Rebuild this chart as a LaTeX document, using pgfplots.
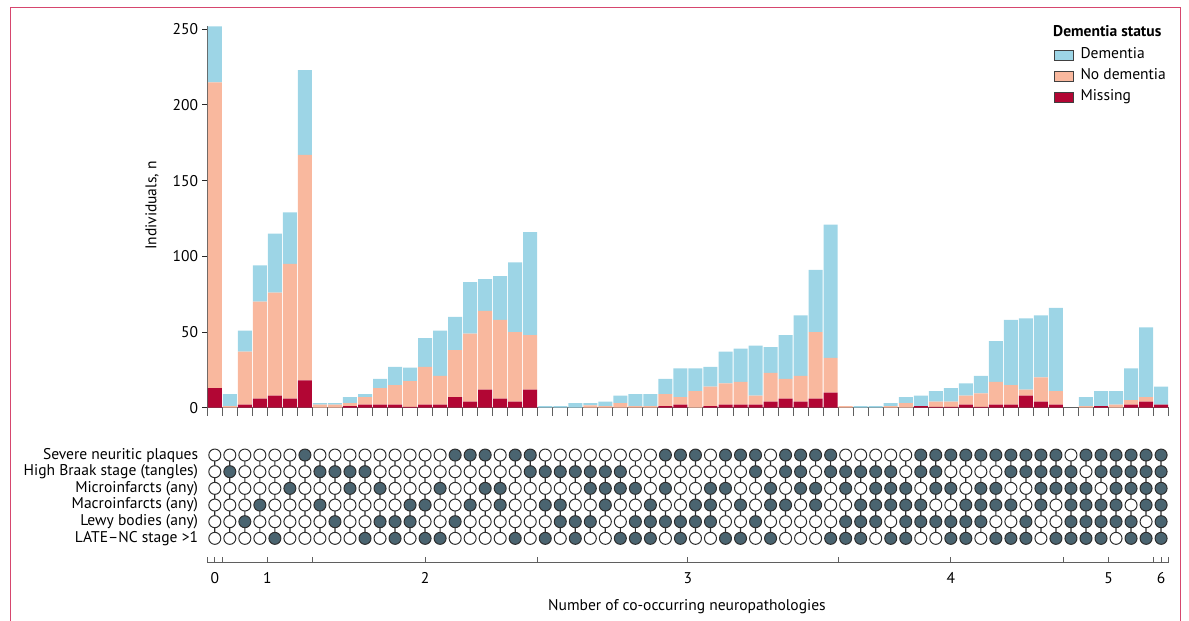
\documentclass[border=0pt]{standalone}
\usepackage{fontspec}
\setmainfont{PT Sans}
\usepackage{pgfplots}
\usepackage{pgfplotstable}
\pgfplotsset{compat=1.18}
\definecolor{dem}{RGB}{157,213,230}
\definecolor{nodem}{RGB}{249,184,158}
\definecolor{miss}{RGB}{178,6,52}
\definecolor{dotfill}{RGB}{74,100,112}
\definecolor{dotline}{RGB}{45,45,45}
\definecolor{framec}{RGB}{214,70,110}
\definecolor{axisgray}{RGB}{95,95,95}
\newcommand{\fs}{\fontsize{15.6}{18}\selectfont}

\pgfplotstableread{
k M ND D
0 13 202 37
1 0 1 8
2 2 35 14
3 6 64 24
4 8 68 39
5 6 89 34
6 18 149 56
7 0 2 1
8 0 2 1
9 1 2 4
10 2 5 2
11 2 11 6
12 2 13 12
13 0.5 17 9
14 2 25 19
15 2 19 30
16 7 31 22
17 4 45 34
18 12 52 21
19 6 52 29
20 4 46 46
21 12 36 68
22 0 0 1
23 0 0 1
24 0 0 3
25 0 1.5 1.5
26 0 1 3
27 0 3 5
28 0 1 8
29 0 1 8
30 1 8 10
31 2 5 19
32 0 11 15
33 1 13 13
34 2 14 21
35 2 15 22
36 2 6 33
37 4 19 17
38 6 13 29
39 4 17 40
40 6 44 41
41 10 23 88
42 0 1 0
43 0 0 1
44 0 0 1
45 0 1 2
46 0 3 4
47 1 0 7
48 0.5 3.5 7
49 0.5 3.5 9
50 2 6 8
51 0.5 9 11.5
52 2 15 27
53 2 13 43
54 8 4 47
55 4 16 41
56 2 9 55
57 0 0 0
58 0 1 6
59 1 0 10
60 0 2 9
61 2 3 21
62 4 3 46
63 2 0 12
}\bars

\begin{document}
\begin{tikzpicture}
\useasboundingbox (0bp,0bp) rectangle (1189bp,-621bp);
\draw[framec, line width=1bp] (10bp,-622bp) -- (10bp,-7bp) -- (1180bp,-7bp) -- (1180bp,-622bp);

\begin{axis}[
  at={(207.3bp,-407.7bp)}, anchor=south west,
  scale only axis, width=961.3bp, height=382.2bp,
  xmin=-0.5, xmax=63.5, ymin=0, ymax=252.5,
  enlargelimits=false,
  ybar stacked, bar width=14bp,
  axis x line*=bottom, axis y line*=left,
  x axis line style={axisgray, line width=1.3bp, -},
  y axis line style={axisgray, line width=1bp, -},
  tick align=outside,
  xtick={-0.5,0.5,...,63.5}, xticklabels={},
  xtick style={axisgray, line width=1bp, /pgfplots/major tick length=8bp},
  ytick={0,50,100,150,200,250},
  ytick style={black!85, line width=1bp, /pgfplots/major tick length=5bp},
  /pgf/number format/assume math mode=true,
  tick label style={font=\fs},
  yticklabel style={xshift=-1.5bp},
  ylabel={Individuals, n},
  ylabel style={font=\fs, at={(axis description cs:-0.0575,0.529)}, anchor=center},
  reverse legend,
  legend cell align=left,
  legend image code/.code={\draw[#1, draw=black!75, line width=0.8bp] (0bp,-5bp) rectangle (19bp,5bp);},
  legend style={at={(rel axis cs:0.8808,0.9411)}, anchor=north west, draw=none, fill=none,
    inner sep=0pt, row sep=6.5bp, column sep=6.5bp, font=\fs,
    nodes={inner sep=0pt, text height=10.5bp, text depth=4bp}},
]
\addplot[fill=miss, draw=none] table[x=k,y=M]{\bars};
\addplot[fill=nodem, draw=none] table[x=k,y=ND]{\bars};
\addplot[fill=dem, draw=none] table[x=k,y=D]{\bars};
\legend{Missing, No dementia, Dementia}
\end{axis}
\node[anchor=base west, font=\fs\bfseries, inner sep=0pt] at (1053bp,-36.5bp) {Dementia status};

\begin{axis}[
  at={(207.3bp,-562.5bp)}, anchor=south west,
  scale only axis, width=961.3bp, height=115.8bp,
  xmin=-0.5, xmax=63.5, ymin=-1.45, ymax=5.5,
  enlargelimits=false,
  axis x line*=bottom, axis y line*=left,
  y axis line style={draw=none},
  x axis line style={axisgray, line width=1.3bp, -},
  tick align=inside,
  xtick={-0.5,0.5,6.5,21.5,41.5,56.5,62.5,63.5}, xticklabels={},
  xtick style={axisgray, line width=1bp, /pgfplots/major tick length=6bp},
  extra x ticks={0,3.5,14,31.5,49,59.5,63},
  extra x tick labels={0,1,2,3,4,5,6},
  extra x tick style={/pgfplots/major tick length=0pt, xticklabel style={anchor=north, inner sep=0pt, yshift=-9.5bp}},
  ytick={0,1,2,3,4,5},
  yticklabels={LATE--NC stage >1, Lewy bodies (any), Macroinfarcts (any), Microinfarcts (any), High Braak stage (tangles), Severe neuritic plaques},
  ytick style={draw=none},
  yticklabel style={anchor=east, inner sep=0pt, xshift=-9bp},
  tick label style={font=\fs},
  xlabel={Number of co-occurring neuropathologies},
  xlabel style={font=\fs, at={(axis description cs:0.499,-0.385)}, anchor=center},
]
\addplot[ybar, bar width=1.2bp, fill=dotline, draw=none] coordinates {
(0,5)(1,5)(2,5)(3,5)(4,5)(5,5)(6,5)(7,5)(8,5)(9,5)(10,5)(11,5)(12,5)(13,5)(14,5)(15,5)
(16,5)(17,5)(18,5)(19,5)(20,5)(21,5)(22,5)(23,5)(24,5)(25,5)(26,5)(27,5)(28,5)(29,5)(30,5)(31,5)
(32,5)(33,5)(34,5)(35,5)(36,5)(37,5)(38,5)(39,5)(40,5)(41,5)(42,5)(43,5)(44,5)(45,5)(46,5)(47,5)
(48,5)(49,5)(50,5)(51,5)(52,5)(53,5)(54,5)(55,5)(56,5)(57,5)(58,5)(59,5)(60,5)(61,5)(62,5)(63,5)};
% open circles
\addplot[only marks, mark=*, mark size=6bp, mark options={fill=white, draw=dotline, line width=1bp}] coordinates {
(0,5)(1,5)(2,5)(3,5)(4,5)(5,5)(7,5)(8,5)(9,5)(10,5)(11,5)(12,5)(13,5)(14,5)(15,5)(19,5)(22,5)(23,5)(24,5)(25,5)(26,5)(27,5)(28,5)(29,5)(33,5)(37,5)(42,5)(43,5)(44,5)(45,5)(46,5)(57,5)
(0,4)(2,4)(3,4)(4,4)(5,4)(6,4)(11,4)(12,4)(13,4)(14,4)(15,4)(16,4)(17,4)(18,4)(19,4)(20,4)(28,4)(29,4)(30,4)(31,4)(32,4)(33,4)(34,4)(35,4)(37,4)(40,4)(46,4)(49,4)(50,4)(51,4)(52,4)(58,4)
(0,3)(1,3)(2,3)(3,3)(4,3)(6,3)(7,3)(8,3)(10,3)(12,3)(13,3)(14,3)(16,3)(17,3)(20,3)(21,3)(22,3)(23,3)(24,3)(29,3)(31,3)(32,3)(35,3)(36,3)(38,3)(41,3)(43,3)(47,3)(50,3)(53,3)(54,3)(59,3)
(0,2)(1,2)(2,2)(4,2)(5,2)(6,2)(8,2)(9,2)(10,2)(11,2)(12,2)(15,2)(16,2)(18,2)(20,2)(21,2)(24,2)(25,2)(27,2)(28,2)(30,2)(31,2)(34,2)(36,2)(39,2)(41,2)(42,2)(48,2)(49,2)(54,2)(56,2)(61,2)
(0,1)(1,1)(3,1)(4,1)(5,1)(6,1)(7,1)(9,1)(10,1)(14,1)(15,1)(17,1)(18,1)(19,1)(20,1)(21,1)(22,1)(26,1)(27,1)(34,1)(35,1)(37,1)(38,1)(39,1)(40,1)(41,1)(45,1)(52,1)(53,1)(55,1)(56,1)(62,1)
(0,0)(1,0)(2,0)(3,0)(5,0)(6,0)(7,0)(8,0)(9,0)(11,0)(13,0)(16,0)(17,0)(18,0)(19,0)(21,0)(23,0)(25,0)(26,0)(30,0)(32,0)(33,0)(36,0)(38,0)(39,0)(40,0)(44,0)(47,0)(48,0)(51,0)(55,0)(60,0)};
% filled circles
\addplot[only marks, mark=*, mark size=6bp, mark options={fill=dotfill, draw=dotline, line width=1bp}] coordinates {
(6,5)(16,5)(17,5)(18,5)(20,5)(21,5)(30,5)(31,5)(32,5)(34,5)(35,5)(36,5)(38,5)(39,5)(40,5)(41,5)(47,5)(48,5)(49,5)(50,5)(51,5)(52,5)(53,5)(54,5)(55,5)(56,5)(58,5)(59,5)(60,5)(61,5)(62,5)(63,5)
(1,4)(7,4)(8,4)(9,4)(10,4)(21,4)(22,4)(23,4)(24,4)(25,4)(26,4)(27,4)(36,4)(38,4)(39,4)(41,4)(42,4)(43,4)(44,4)(45,4)(47,4)(48,4)(53,4)(54,4)(55,4)(56,4)(57,4)(59,4)(60,4)(61,4)(62,4)(63,4)
(5,3)(9,3)(11,3)(15,3)(18,3)(19,3)(25,3)(26,3)(27,3)(28,3)(30,3)(33,3)(34,3)(37,3)(39,3)(40,3)(42,3)(44,3)(45,3)(46,3)(48,3)(49,3)(51,3)(52,3)(55,3)(56,3)(57,3)(58,3)(60,3)(61,3)(62,3)(63,3)
(3,2)(7,2)(13,2)(14,2)(17,2)(19,2)(22,2)(23,2)(26,2)(29,2)(32,2)(33,2)(35,2)(37,2)(38,2)(40,2)(43,2)(44,2)(45,2)(46,2)(47,2)(50,2)(51,2)(52,2)(53,2)(55,2)(57,2)(58,2)(59,2)(60,2)(62,2)(63,2)
(2,1)(8,1)(11,1)(12,1)(13,1)(16,1)(23,1)(24,1)(25,1)(28,1)(29,1)(30,1)(31,1)(32,1)(33,1)(36,1)(42,1)(43,1)(44,1)(46,1)(47,1)(48,1)(49,1)(50,1)(51,1)(54,1)(57,1)(58,1)(59,1)(60,1)(61,1)(63,1)
(4,0)(10,0)(12,0)(14,0)(15,0)(20,0)(22,0)(24,0)(27,0)(28,0)(29,0)(31,0)(34,0)(35,0)(37,0)(41,0)(42,0)(43,0)(45,0)(46,0)(49,0)(50,0)(52,0)(53,0)(54,0)(56,0)(57,0)(58,0)(59,0)(61,0)(62,0)(63,0)};
\end{axis}
\end{tikzpicture}
\end{document}
